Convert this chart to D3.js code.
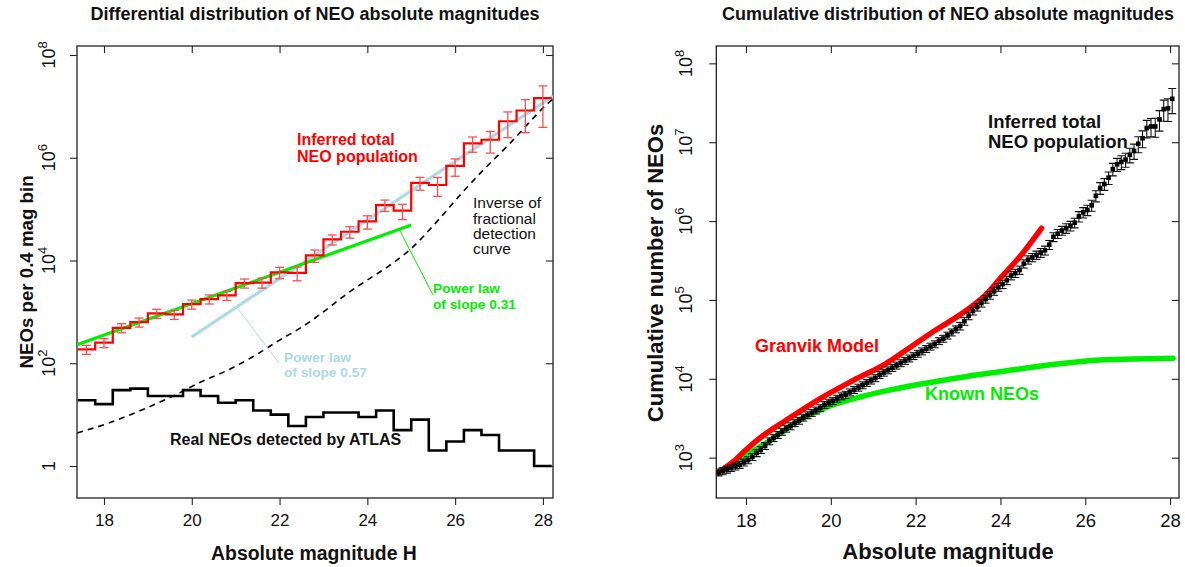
<!DOCTYPE html>
<html><head><meta charset="utf-8">
<script src="https://cdn.jsdelivr.net/npm/d3@7"></script>
<style>
body{margin:0;background:#fff;}
svg text{font-family:"Liberation Sans",Arial,Helvetica,sans-serif;}
</style>
</head><body>
<svg id="chart" width="1185" height="567"></svg>
<script>
// ---------------- DATA: left panel (differential) ----------------
const binLo = [17.4,17.8,18.2,18.6,19.0,19.4,19.8,20.2,20.6,21.0,21.4,21.8,22.2,22.6,23.0,23.4,23.8,24.2,24.6,25.0,25.4,25.8,26.2,26.6,27.0,27.4,27.8];
const binWidth = 0.4;
const inferredTotal = [186,251,490,631,933,891,1413,1778,2089,3631,3715,5888,5754,12590,25700,36300,57500,120000,93300,324000,295000,692000,1905000,2239000,5129000,8318000,14450000];
const inferredRelErr = [0.2,0.2,0.2,0.2,0.2,0.2,0.2,0.2,0.2,0.2,0.22,0.25,0.3,0.27,0.22,0.25,0.29,0.25,0.33,0.28,0.4,0.37,0.33,0.45,0.52,0.63,0.73];
const atlasDetected = [19,16,30,32,23,23,30,23,17,19,12,10,6,9,11,11,9,12,5,8,2,3,5,4,2,2,1];
const invDetH = [17.39,18.1,18.86,19.62,20.22,20.83,21.4,22.0,22.5,23.0,23.5,24.0,24.5,24.97,25.65,26.15,26.64,27.25,27.78,28.1,28.23];
const invDetN = [4.4,6.8,12.3,24,43.7,74,135,282,500,1000,2140,4170,7940,16200,66100,204000,575000,1905000,5890000,11220000,14000000];
const fitShallowH = [17.385,25.0];
const fitShallowN = [229,49000];
const fitSteepH = [20.0,28.23];
const fitSteepN = [324,15800000];

// ---------------- DATA: right panel (cumulative) ----------------
const cumH = [17.35,17.45,17.55,17.65,17.75,17.85,17.95,18.05,18.15,18.25,18.35,18.45,18.55,18.65,18.75,18.85,18.95,19.05,19.15,19.25,19.35,19.45,19.55,19.65,19.75,19.85,19.95,20.05,20.15,20.25,20.35,20.45,20.55,20.65,20.75,20.85,20.95,21.05,21.15,21.25,21.35,21.45,21.55,21.65,21.75,21.85,21.95,22.05,22.15,22.25,22.35,22.45,22.55,22.65,22.75,22.85,22.95,23.05,23.15,23.25,23.35,23.45,23.55,23.65,23.75,23.85,23.95,24.05,24.15,24.25,24.35,24.45,24.55,24.65,24.75,24.85,24.95,25.05,25.15,25.25,25.35,25.45,25.55,25.65,25.75,25.85,25.95,26.05,26.15,26.25,26.35,26.45,26.55,26.65,26.75,26.85,26.95,27.05,27.15,27.25,27.35,27.45,27.55,27.65,27.75,27.85,27.95,28.05];
const cumN = [653,676,708,741,776,813,871,933,1023,1148,1259,1413,1622,1778,1950,2138,2344,2512,2754,2951,3236,3467,3715,3981,4266,4677,5012,5248,5623,6026,6310,6761,7244,7762,8318,8913,9550,10230,11220,12020,12880,13800,14790,15850,16980,18200,19500,20890,22390,23990,25700,27540,30200,32360,35480,38900,42660,46770,53700,63100,72440,81280,91200,102300,114800,128800,144500,158500,177800,204200,218800,239900,288400,323600,346700,371500,398100,426600,501200,631000,691800,758600,812800,871000,955000,1148000,1288000,1380000,1585000,2089000,2630000,2951000,3548000,4571000,5248000,5623000,6026000,6918000,7762000,9550000,11220000,15140000,15850000,15850000,19500000,26300000,26920000,35480000];
const cumRelErr = [0.1,0.1,0.1,0.1,0.1,0.1,0.1,0.1,0.1,0.1,0.1,0.1,0.1,0.1,0.1,0.1,0.1,0.1,0.1,0.1,0.1,0.1,0.1,0.1,0.1,0.1,0.1,0.1,0.1,0.1,0.1,0.1,0.1,0.1,0.1,0.1,0.1,0.1,0.1,0.1,0.1,0.1,0.1,0.1,0.1,0.1,0.1,0.1,0.1,0.1,0.1,0.1,0.1,0.1,0.1,0.1,0.1,0.11,0.11,0.11,0.11,0.11,0.11,0.11,0.11,0.11,0.11,0.12,0.12,0.12,0.12,0.12,0.12,0.12,0.12,0.12,0.13,0.13,0.13,0.13,0.13,0.13,0.14,0.14,0.14,0.15,0.15,0.15,0.16,0.16,0.17,0.17,0.18,0.18,0.19,0.2,0.2,0.21,0.22,0.23,0.24,0.25,0.26,0.27,0.29,0.3,0.32,0.35];
const granvikH = [17.35,17.7,18.0,18.33,18.96,19.75,20.53,21.32,21.63,22.42,23.2,23.68,23.99,24.46,24.97];
const granvikN = [653,891,1259,1778,3020,5623,9550,15850,20420,39800,74130,120200,186200,354800,812800];
const knownH = [17.35,18.0,18.57,19.27,20.0,20.69,21.32,21.87,22.42,23.2,23.99,24.78,25.56,26.35,27.14,28.07];
const knownN = [653,1072,1660,3020,4571,5888,7079,8128,9120,10720,12300,14130,15850,17380,17780,18200];

// ---------------- ticks ----------------
const xTickVals = [18,20,22,24,26,28];
const leftYTicks = [1,1e2,1e4,1e6,1e8];
const rightYTicks = [1e3,1e4,1e5,1e6,1e7,1e8];

// ---------------- drawing ----------------
const svg = d3.select("#chart");
const RED = "#ff0000", GREEN = "#00ee00", LBLUE = "#add8e6";

function setupPanel(id, L, R, T, B, xd, yd, yTicks, labelOff, fs) {
  const x = d3.scaleLinear().domain(xd).range([L, R]);
  const y = d3.scaleLog().domain(yd).range([B, T]);
  const g = svg.append("g");
  g.append("defs").append("clipPath").attr("id", id)
    .append("rect").attr("x", L).attr("y", T).attr("width", R - L).attr("height", B - T);
  const styleAxis = sel => {
    sel.select(".domain").remove();
    sel.selectAll(".tick line").attr("stroke", "#222").attr("stroke-width", 1.1);
    sel.selectAll(".tick text").attr("font-size", fs).attr("fill", "#111")
      .attr("font-family", "Liberation Sans, Arial, sans-serif");
  };
  g.append("g").attr("transform", `translate(0,${B})`)
    .call(d3.axisBottom(x).tickValues(xTickVals).tickSize(7).tickPadding(9).tickFormat(d3.format("d")))
    .call(styleAxis);
  g.append("g").attr("transform", `translate(0,${T})`)
    .call(d3.axisTop(x).tickValues(xTickVals).tickSize(-7).tickFormat(""))
    .call(styleAxis);
  g.append("g").attr("transform", `translate(${L},0)`)
    .call(d3.axisLeft(y).tickValues(yTicks).tickSize(7).tickFormat(""))
    .call(styleAxis);
  g.append("g").attr("transform", `translate(${R},0)`)
    .call(d3.axisRight(y).tickValues(yTicks).tickSize(-7).tickFormat(""))
    .call(styleAxis);
  yTicks.forEach(v => {
    const e = Math.round(Math.log10(v));
    const t = g.append("text")
      .attr("transform", `translate(${L - labelOff},${y(v)}) rotate(-90)`)
      .attr("text-anchor", "middle").attr("font-size", 18).attr("fill", "#111");
    if (e === 0) { t.text("1"); }
    else {
      t.append("tspan").text("10");
      t.append("tspan").attr("font-size", 13).attr("dy", -8).text(e);
    }
  });
  g.append("rect").attr("x", L).attr("y", T).attr("width", R - L).attr("height", B - T)
    .attr("fill", "none").attr("stroke", "#222").attr("stroke-width", 1.3);
  const plot = g.append("g").attr("clip-path", `url(#${id})`);
  return {x, y, g, plot};
}

// ===== LEFT PANEL =====
{
  const P = setupPanel("clipL", 77, 553, 46, 498, [17.385, 28.23], [Math.pow(10,-0.623), Math.pow(10,8.175)], leftYTicks, 22, 17);
  const {x, y, g, plot} = P;
  const line = d3.line().x(d => x(d[0])).y(d => y(d[1]));

  function stepPts(vals) {
    const pts = [];
    binLo.forEach((lo, i) => { pts.push([lo, vals[i]]); pts.push([lo + binWidth, vals[i]]); });
    return pts;
  }
  plot.append("path").datum(invDetH.map((h, i) => [h, invDetN[i]]))
    .attr("d", line.curve(d3.curveMonotoneX)).attr("fill", "none")
    .attr("stroke", "#000").attr("stroke-width", 1.6).attr("stroke-dasharray", "6,5");
  line.curve(d3.curveLinear);
  plot.append("path").datum(stepPts(atlasDetected)).attr("d", line)
    .attr("fill", "none").attr("stroke", "#000").attr("stroke-width", 2.6);
  plot.append("path").datum(fitSteepH.map((h, i) => [h, fitSteepN[i]])).attr("d", line)
    .attr("fill", "none").attr("stroke", LBLUE).attr("stroke-width", 3.2);
  plot.append("path").datum(fitShallowH.map((h, i) => [h, fitShallowN[i]])).attr("d", line)
    .attr("fill", "none").attr("stroke", GREEN).attr("stroke-width", 3.2);
  plot.append("path").datum(stepPts(inferredTotal)).attr("d", line)
    .attr("fill", "none").attr("stroke", RED).attr("stroke-width", 2.2);
  const eb = plot.append("g").attr("stroke", "#ff4d4d").attr("stroke-width", 1.3).attr("fill", "none");
  binLo.forEach((lo, i) => {
    const cx = x(lo + binWidth / 2);
    const v = inferredTotal[i], s = inferredRelErr[i];
    const y1 = y(v * (1 + s)), y2 = y(v * (1 - s));
    eb.append("line").attr("x1", cx).attr("x2", cx).attr("y1", y1).attr("y2", y2);
    eb.append("line").attr("x1", cx - 4.5).attr("x2", cx + 4.5).attr("y1", y1).attr("y2", y1);
    eb.append("line").attr("x1", cx - 4.5).attr("x2", cx + 4.5).attr("y1", y2).attr("y2", y2);
  });
  g.append("line").attr("x1", 399).attr("y1", 229).attr("x2", 433).attr("y2", 295)
    .attr("stroke", GREEN).attr("stroke-width", 1);
  g.append("line").attr("x1", 238).attr("y1", 309).attr("x2", 279).attr("y2", 363)
    .attr("stroke", LBLUE).attr("stroke-width", 1);
  const txt = (xp, yp, s, size, color, bold) => g.append("text").attr("x", xp).attr("y", yp)
    .attr("font-size", size).attr("fill", color).attr("font-weight", bold ? "bold" : "normal").text(s);
  txt(297, 145, "Inferred total", 16, RED, true);
  txt(297, 162, "NEO population", 16, RED, true);
  txt(473, 208, "Inverse of", 15.5, "#111", false);
  txt(473, 224, "fractional", 15.5, "#111", false);
  txt(473, 239, "detection", 15.5, "#111", false);
  txt(473, 254, "curve", 15.5, "#111", false);
  txt(433, 293, "Power law", 13.7, GREEN, true);
  txt(433, 309, "of slope 0.31", 13.7, GREEN, true);
  txt(284, 362, "Power law", 13.7, LBLUE, true);
  txt(284, 377, "of slope 0.57", 13.7, LBLUE, true);
  txt(170, 445, "Real NEOs detected by ATLAS", 16, "#111", true);
  g.append("text").attr("x", 315).attr("y", 20).attr("text-anchor", "middle")
    .attr("font-size", 18).attr("font-weight", "bold").attr("fill", "#111")
    .text("Differential distribution of NEO absolute magnitudes");
  g.append("text").attr("x", 314).attr("y", 560).attr("text-anchor", "middle")
    .attr("font-size", 19.4).attr("font-weight", "bold").attr("fill", "#111")
    .text("Absolute magnitude H");
  g.append("text").attr("transform", "translate(33,272) rotate(-90)").attr("text-anchor", "middle")
    .attr("font-size", 18.7).attr("font-weight", "bold").attr("fill", "#111")
    .text("NEOs per 0.4 mag bin");
}

// ===== RIGHT PANEL =====
{
  const P = setupPanel("clipR", 716.3, 1179, 46, 498, [17.30, 28.21], [Math.pow(10,2.489), Math.pow(10,8.22)], rightYTicks, 24, 18.5);
  const {x, y, g, plot} = P;
  const line = d3.line().x(d => x(d[0])).y(d => y(d[1])).curve(d3.curveMonotoneX);
  plot.append("path").datum(knownH.map((h, i) => [h, knownN[i]])).attr("d", line)
    .attr("fill", "none").attr("stroke", GREEN).attr("stroke-width", 5.5).attr("stroke-linecap", "round");
  plot.append("path").datum(granvikH.map((h, i) => [h, granvikN[i]])).attr("d", line)
    .attr("fill", "none").attr("stroke", RED).attr("stroke-width", 5.5).attr("stroke-linecap", "round");
  const eb = plot.append("g").attr("stroke", "#111").attr("stroke-width", 1.1);
  cumH.forEach((h, i) => {
    const cx = x(h), v = cumN[i], s = cumRelErr[i];
    const y1 = y(v * (1 + s)), y2 = y(v * (1 - s));
    eb.append("line").attr("x1", cx).attr("x2", cx).attr("y1", y1).attr("y2", y2);
    eb.append("line").attr("x1", cx - 4).attr("x2", cx + 4).attr("y1", y1).attr("y2", y1);
    eb.append("line").attr("x1", cx - 4).attr("x2", cx + 4).attr("y1", y2).attr("y2", y2);
  });
  plot.append("g").selectAll("rect").data(cumH).join("rect")
    .attr("x", d => x(d) - 2.3).attr("y", (d, i) => y(cumN[i]) - 2.3)
    .attr("width", 4.6).attr("height", 4.6).attr("fill", "#000");
  const txt = (xp, yp, s, size, color) => g.append("text").attr("x", xp).attr("y", yp)
    .attr("font-size", size).attr("fill", color).attr("font-weight", "bold").text(s);
  txt(988, 128, "Inferred total", 18.5, "#111");
  txt(988, 148, "NEO population", 18.5, "#111");
  txt(755, 352, "Granvik Model", 18, RED);
  txt(925, 400, "Known NEOs", 18, GREEN);
  g.append("text").attr("x", 948).attr("y", 20).attr("text-anchor", "middle")
    .attr("font-size", 18).attr("font-weight", "bold").attr("fill", "#111")
    .text("Cumulative distribution of NEO absolute magnitudes");
  g.append("text").attr("x", 948).attr("y", 559).attr("text-anchor", "middle")
    .attr("font-size", 22).attr("font-weight", "bold").attr("fill", "#111")
    .text("Absolute magnitude");
  g.append("text").attr("transform", "translate(663,273) rotate(-90)").attr("text-anchor", "middle")
    .attr("font-size", 22).attr("font-weight", "bold").attr("fill", "#111")
    .text("Cumulative number of NEOs");
}
</script>
</body></html>
